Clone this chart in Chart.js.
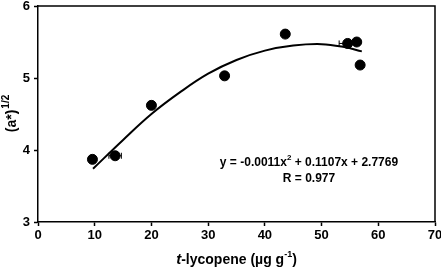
<!DOCTYPE html>
<html>
<head>
<meta charset="utf-8">
<script src="https://cdn.jsdelivr.net/npm/chart.js@4"></script>
<style>
  html, body { margin: 0; padding: 0; background: #fff; }
  #wrap { width: 441px; height: 268px; }
</style>
</head>
<body>
<div id="wrap"><canvas id="lycopeneChart" width="441" height="268"></canvas></div>
<script>
// measured points: t-lycopene vs (a*)^1/2
const lycopene = [9.6, 13.6, 20.0, 32.9, 43.6, 54.6, 56.2, 56.8];
const colourA = [3.87, 3.92, 4.62, 5.03, 5.61, 5.48, 5.50, 5.18];
const lycopeneErr = [0, 1.1, 0, 0, 0, 1.5, 0, 0];

// fitted curve
const fitX = [9.7, 15, 20, 25, 30, 35, 40, 45, 50, 54, 57.1];
const fitY = [3.74, 4.14, 4.50, 4.80, 5.06, 5.25, 5.38, 5.45, 5.47, 5.43, 5.37];

const xTicks = [0, 10, 20, 30, 40, 50, 60, 70];
const yTicks = [3, 4, 5, 6];

const FONT = "'Liberation Sans', Arial, sans-serif";

// frame on top/right, error bars, axis titles, equation
const extras = {
    id: 'extras',
    afterDatasetsDraw(chart) {
        const c = chart.ctx;
        const a = chart.chartArea;
        const xs = chart.scales.x, ys = chart.scales.y;
        c.save();
        c.strokeStyle = '#000';
        c.lineWidth = 1.5;
        c.beginPath();
        c.moveTo(a.left, a.top);
        c.lineTo(a.right, a.top);
        c.lineTo(a.right, a.bottom);
        c.stroke();

        // horizontal error bars
        c.lineWidth = 1;
        lycopene.forEach((x, i) => {
            if (!lycopeneErr[i]) return;
            const py = ys.getPixelForValue(colourA[i]);
            const l = xs.getPixelForValue(x - lycopeneErr[i]);
            const r = xs.getPixelForValue(x + lycopeneErr[i]);
            c.beginPath();
            c.moveTo(l, py); c.lineTo(r, py);
            c.moveTo(l, py - 3); c.lineTo(l, py + 3);
            c.moveTo(r, py - 3); c.lineTo(r, py + 3);
            c.stroke();
        });

        c.fillStyle = '#000';
        c.textBaseline = 'alphabetic';

        // equation
        c.textAlign = 'left';
        const eq1 = 'y = -0.0011x', eq2 = ' + 0.1107x + 2.7769';
        c.font = 'bold 12px ' + FONT;
        const w1 = c.measureText(eq1).width;
        c.font = 'bold 8px ' + FONT;
        const ws = c.measureText('2').width;
        c.font = 'bold 12px ' + FONT;
        const w2 = c.measureText(eq2).width;
        let ex = 309 - (w1 + ws + w2) / 2;
        c.fillText(eq1, ex, 166);
        c.font = 'bold 8px ' + FONT;
        c.fillText('2', ex + w1, 160);
        c.font = 'bold 12px ' + FONT;
        c.fillText(eq2, ex + w1 + ws, 166);
        c.textAlign = 'center';
        c.fillText('R = 0.977', 309, 182);

        // x title
        c.textAlign = 'left';
        const p1 = 't', p2 = '-lycopene (\u00b5g g', p3 = '-1', p4 = ')';
        c.font = 'italic bold 15px ' + FONT;
        const t1 = c.measureText(p1).width;
        c.font = 'bold 14px ' + FONT;
        const t2 = c.measureText(p2).width;
        const t4 = c.measureText(p4).width;
        c.font = 'bold 9px ' + FONT;
        const t3 = c.measureText(p3).width;
        let tx = (a.left + a.right) / 2 - (t1 + t2 + t3 + t4) / 2;
        const ty = 264;
        c.font = 'italic bold 15px ' + FONT;
        c.fillText(p1, tx, ty); tx += t1;
        c.font = 'bold 14px ' + FONT;
        c.fillText(p2, tx, ty); tx += t2;
        c.font = 'bold 9px ' + FONT;
        c.fillText(p3, tx, ty - 7); tx += t3;
        c.font = 'bold 14px ' + FONT;
        c.fillText(p4, tx, ty);

        // y title, rotated
        c.translate(16, (a.top + a.bottom) / 2);
        c.rotate(-Math.PI / 2);
        c.font = 'bold 14px ' + FONT;
        const y1 = '(a*)';
        const yw1 = c.measureText(y1).width;
        c.font = 'bold 10px ' + FONT;
        const yw2 = c.measureText('1/2').width;
        let yx = -(yw1 + yw2) / 2;
        c.font = 'bold 14px ' + FONT;
        c.fillText(y1, yx, 0);
        c.font = 'bold 10px ' + FONT;
        c.fillText('1/2', yx + yw1 + 1, -7);
        c.restore();
    }
};

const ctx = document.getElementById('lycopeneChart').getContext('2d');
const lycopeneChart = new Chart(ctx, {
    type: 'scatter',
    data: {
        datasets: [{
            label: 'fit',
            data: fitX.map((x, i) => ({ x: x, y: fitY[i] })),
            showLine: true,
            borderColor: '#000',
            borderWidth: 2,
            tension: 0.4,
            pointRadius: 0,
            order: 2
        }, {
            label: 'samples',
            data: lycopene.map((x, i) => ({ x: x, y: colourA[i] })),
            backgroundColor: '#000',
            borderColor: '#000',
            pointRadius: 5,
            order: 1
        }]
    },
    options: {
        responsive: false,
        animation: false,
        layout: { padding: { left: 0, right: 5, top: 6, bottom: 0 } },
        plugins: {
            legend: { display: false },
            tooltip: { enabled: false }
        },
        scales: {
            x: {
                type: 'linear',
                min: 0, max: 70,
                afterBuildTicks: s => { s.ticks = xTicks.map(v => ({ value: v })); },
                afterFit: s => { s.height = 46; s.paddingLeft = 0; s.paddingRight = 0; },
                ticks: {
                    color: '#000',
                    padding: 2,
                    font: { family: FONT, size: 13, weight: 'bold' }
                },
                grid: { drawOnChartArea: false, drawTicks: true, tickLength: 4, tickColor: '#000', tickWidth: 1.5 },
                border: { display: true, color: '#000', width: 1.5 }
            },
            y: {
                type: 'linear',
                min: 3, max: 6,
                afterBuildTicks: s => { s.ticks = yTicks.map(v => ({ value: v })); },
                afterFit: s => { s.width = 38; s.paddingTop = 0; s.paddingBottom = 0; },
                ticks: {
                    color: '#000',
                    padding: 4,
                    font: { family: FONT, size: 13, weight: 'bold' }
                },
                grid: { drawOnChartArea: false, drawTicks: true, tickLength: 4, tickColor: '#000', tickWidth: 1.5 },
                border: { display: true, color: '#000', width: 1.5 }
            }
        }
    },
    plugins: [extras]
});
</script>
</body>
</html>
